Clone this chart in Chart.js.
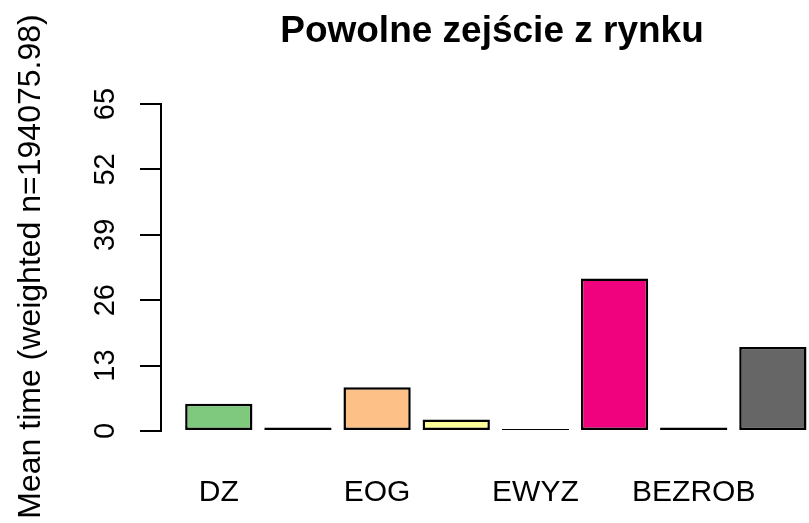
<!DOCTYPE html>
<html>
<head>
<meta charset="utf-8">
<script src="https://cdn.jsdelivr.net/npm/chart.js@4/dist/chart.umd.min.js"></script>
<style>
  html, body { margin: 0; padding: 0; background: #fff; overflow: hidden; }
  #wrap { width: 823px; height: 523px; position: relative; }
</style>
</head>
<body>
<div id="wrap"><canvas id="c"></canvas></div>
<script>
// ---- data ----
const chartTitle = 'Powolne zejście z rynku';
const yAxisTitle = 'Mean time (weighted n=194075.98)';
const categories = ['DZ', '', 'EOG', '', 'EWYZ', '', 'BEZROB', ''];
const meanTime = [5.4, 0.7, 8.7, 2.3, 0.05, 30.3, 0.7, 16.7];
const yTicks = [0, 13, 26, 39, 52, 65];
const barColors = ['#7FC97F', '#BEAED4', '#FDC086', '#FFFF99', '#386CB0', '#F0027F', '#BF5B17', '#666666'];

// R barplot geometry: width 1, space 0.2 -> centres at 0.7 + 1.2*i
const barPositions = categories.map((_, i) => 0.7 + 1.2 * i);
const points = meanTime.map((v, i) => ({ x: barPositions[i], y: v }));

const yTitlePlugin = {
  id: 'yTitle',
  afterDraw(chart) {
    const { ctx, chartArea } = chart;
    ctx.save();
    ctx.translate(40, (chartArea.top + chartArea.bottom) / 2 - 1);
    ctx.rotate(-Math.PI / 2);
    ctx.font = '32px "Liberation Sans", Arial, sans-serif';
    ctx.fillStyle = '#000';
    ctx.textAlign = 'center';
    ctx.textBaseline = 'alphabetic';
    ctx.fillText(yAxisTitle, 0, 0);
    ctx.restore();
  }
};

new Chart(document.getElementById('c'), {
  type: 'bar',
  data: {
    datasets: [{
      data: points,
      backgroundColor: barColors,
      borderColor: '#000',
      borderWidth: 2.5,
      borderSkipped: false,
      minBarLength: 2,
      categoryPercentage: 1,
      barPercentage: 0.85
    }]
  },
  options: {
    responsive: true,
    maintainAspectRatio: false,
    animation: false,
    layout: { padding: 0 },
    plugins: {
      legend: { display: false },
      tooltip: { enabled: false },
      title: {
        display: true,
        text: chartTitle,
        fullSize: false,
        color: '#000',
        font: { family: '"Liberation Sans", Arial, sans-serif', size: 37, weight: 'bold' },
        padding: { top: 9.5, bottom: 50.1 }
      }
    },
    scales: {
      x: {
        type: 'linear',
        offset: false,
        min: -0.176,
        max: 9.86,
        grid: { display: false, drawTicks: false },
        border: { display: false },
        afterBuildTicks(scale) { scale.ticks = barPositions.map(v => ({ value: v })); },
        afterFit(scale) { scale.height = 92; },
        ticks: {
          autoSkip: false,
          maxRotation: 0,
          minRotation: 0,
          padding: 44,
          color: '#000',
          font: { family: '"Liberation Sans", Arial, sans-serif', size: 30 },
          callback: (value, index) => categories[index]
        }
      },
      y: {
        min: 0,
        max: 65,
        afterBuildTicks(scale) { scale.ticks = yTicks.map(v => ({ value: v })); },
        afterFit(scale) { scale.width = 161; },
        grid: { display: true, drawOnChartArea: false, drawTicks: true, tickLength: 21, color: '#000', lineWidth: 2 },
        border: { display: true, color: '#000', width: 2 },
        ticks: {
          minRotation: 90,
          maxRotation: 90,
          crossAlign: 'center',
          padding: 18,
          color: '#000',
          font: { family: '"Liberation Sans", Arial, sans-serif', size: 29 }
        }
      }
    }
  },
  plugins: [yTitlePlugin]
});
</script>
</body>
</html>
